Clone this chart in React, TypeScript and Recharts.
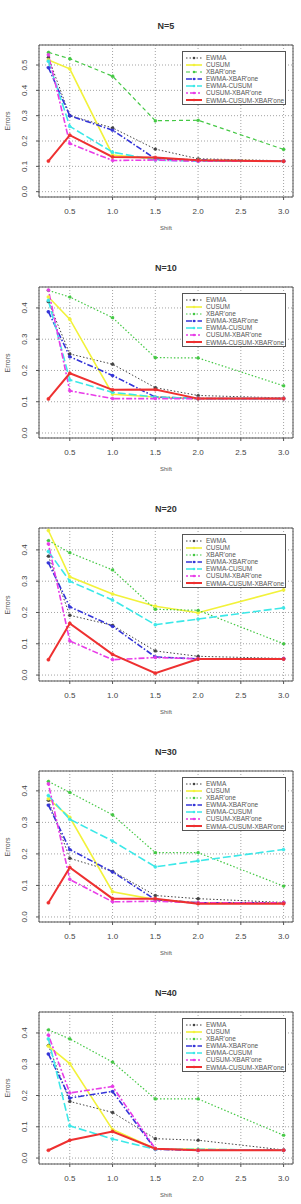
import React from 'react'
import { LineChart, Line, XAxis, YAxis, CartesianGrid, ReferenceArea } from 'recharts'

const shifts = [0.25, 0.5, 1.0, 1.5, 2.0, 3.0]
const xTicks = [0.5, 1.0, 1.5, 2.0, 2.5, 3.0]
const methods = ['EWMA', 'CUSUM', "XBAR'one", "EWMA-XBAR'one", 'EWMA-CUSUM', "CUSUM-XBAR'one", "EWMA-CUSUM-XBAR'one"]

// rows follow the order of `methods`, columns follow `shifts`
const errorsN5 = [
  [0.53, 0.3, 0.252, 0.168, 0.13, 0.122],
  [0.52, 0.485, 0.145, 0.13, 0.125, 0.12],
  [0.55, 0.525, 0.456, 0.28, 0.282, 0.167],
  [0.49, 0.3, 0.243, 0.13, 0.125, 0.12],
  [0.515, 0.258, 0.156, 0.125, 0.12, 0.12],
  [0.54, 0.19, 0.123, 0.125, 0.12, 0.12],
  [0.121, 0.223, 0.137, 0.135, 0.124, 0.12],
]
const errorsN10 = [
  [0.42, 0.253, 0.22, 0.145, 0.12, 0.112],
  [0.435, 0.364, 0.124, 0.115, 0.11, 0.11],
  [0.456, 0.435, 0.369, 0.241, 0.24, 0.151],
  [0.388, 0.244, 0.184, 0.115, 0.11, 0.11],
  [0.424, 0.17, 0.13, 0.115, 0.11, 0.11],
  [0.457, 0.135, 0.11, 0.11, 0.11, 0.11],
  [0.109, 0.191, 0.138, 0.139, 0.11, 0.11],
]
const errorsN20 = [
  [0.38, 0.191, 0.159, 0.077, 0.06, 0.053],
  [0.462, 0.314, 0.259, 0.22, 0.199, 0.272],
  [0.43, 0.391, 0.336, 0.21, 0.207, 0.1],
  [0.359, 0.218, 0.156, 0.058, 0.052, 0.052],
  [0.395, 0.3, 0.24, 0.161, 0.179, 0.215],
  [0.419, 0.109, 0.049, 0.056, 0.052, 0.052],
  [0.049, 0.165, 0.066, 0.006, 0.051, 0.051],
]
const errorsN30 = [
  [0.37, 0.186, 0.145, 0.068, 0.058, 0.046],
  [0.375, 0.316, 0.08, 0.055, 0.045, 0.045],
  [0.43, 0.395, 0.324, 0.204, 0.204, 0.098],
  [0.355, 0.214, 0.143, 0.055, 0.045, 0.045],
  [0.385, 0.31, 0.241, 0.159, 0.178, 0.214],
  [0.422, 0.119, 0.048, 0.05, 0.045, 0.045],
  [0.045, 0.157, 0.058, 0.058, 0.042, 0.042],
]
const errorsN40 = [
  [0.36, 0.181, 0.146, 0.062, 0.057, 0.026],
  [0.358, 0.302, 0.091, 0.03, 0.028, 0.025],
  [0.41, 0.381, 0.307, 0.189, 0.189, 0.073],
  [0.333, 0.192, 0.213, 0.028, 0.025, 0.025],
  [0.381, 0.103, 0.061, 0.028, 0.028, 0.025],
  [0.393, 0.208, 0.229, 0.03, 0.025, 0.025],
  [0.025, 0.057, 0.085, 0.03, 0.025, 0.025],
]

const ticksTo05 = [0, 0.1, 0.2, 0.3, 0.4, 0.5]
const ticksTo04 = [0, 0.1, 0.2, 0.3, 0.4]

const colors = ['#444444', '#f2f23a', '#44c844', '#3434d8', '#3ce8e8', '#e83ce8', '#ee3030']
const widths = [1, 1.6, 1.2, 1.6, 1.6, 1.6, 2]
const dashes = ['1.5 2', undefined, '1.5 2', '6 2 1.5 2', '8 3', '2 2 6 2', undefined]

const font = '"Liberation Sans", Arial, sans-serif'
const ink = '#444'
const xDomain = [0.14, 3.11]

const panels = [
  { title: 'N=5', errors: errorsN5, ticks: ticksTo05, yDomain: [-0.021, 0.579], top: 45, bottom: 197, greenDash: '4 3' },
  { title: 'N=10', errors: errorsN10, ticks: ticksTo04, yDomain: [-0.016, 0.467], top: 287, bottom: 438 },
  { title: 'N=20', errors: errorsN20, ticks: ticksTo04, yDomain: [-0.019, 0.47], top: 528, bottom: 681 },
  { title: 'N=30', errors: errorsN30, ticks: ticksTo04, yDomain: [-0.016, 0.463], top: 771, bottom: 922 },
  { title: 'N=40', errors: errorsN40, ticks: ticksTo04, yDomain: [-0.019, 0.467], top: 1012, bottom: 1164 },
]

const XTick = (props: any) => {
  const { x, y, payload } = props
  return (
    <text x={x} y={y + 12} textAnchor="middle" fontSize={8} fill={ink} fontFamily={font}>
      {payload.value.toFixed(1)}
    </text>
  )
}

const YTick = (props: any) => {
  const { x, y, payload } = props
  const bx = x - 7
  return (
    <text x={bx} y={y} transform={`rotate(-90 ${bx} ${y})`} textAnchor="middle" fontSize={8} fill={ink} fontFamily={font}>
      {payload.value.toFixed(1)}
    </text>
  )
}

function LegendBox({ top, greenDash }: { top: number; greenDash?: string }) {
  return (
    <div
      style={{
        position: 'absolute', left: 182, top, width: 104, height: 54,
        border: '1px solid #555', background: '#fff', boxSizing: 'border-box',
        padding: '2px 0 0 2px', fontFamily: font, fontSize: 6.5, color: '#555', lineHeight: '7.1px',
      }}
    >
      {methods.map((m, i) => (
        <div key={m} style={{ display: 'flex', alignItems: 'center', height: 7.1, whiteSpace: 'nowrap' }}>
          <svg width={18} height={6} style={{ flex: 'none' }}>
            <line x1={1} x2={17} y1={3} y2={3} stroke={colors[i]} strokeWidth={widths[i]}
              strokeDasharray={i === 2 && greenDash ? greenDash : dashes[i]} />
            <circle cx={9} cy={3} r={1.3} fill={colors[i]} />
          </svg>
          <span style={{ marginLeft: 3 }}>{m}</span>
        </div>
      ))}
    </div>
  )
}

function Panel({ p }: { p: (typeof panels)[number] }) {
  const data = shifts.map((s, j) => {
    const row: Record<string, number> = { shift: s }
    p.errors.forEach((vals, i) => { row['m' + i] = vals[j] })
    return row
  })
  const plotH = p.bottom - p.top
  const chartTop = p.top - 8
  return (
    <>
      <div style={{ position: 'absolute', left: 39, width: 254, top: p.top - 24, textAlign: 'center', fontFamily: font, fontWeight: 'bold', fontSize: 9, color: '#333' }}>
        {p.title}
      </div>
      <div style={{ position: 'absolute', left: 0, top: chartTop }}>
        <LineChart width={301} height={plotH + 38} data={data} margin={{ top: 8, right: 8, left: 14, bottom: 0 }}>
          <CartesianGrid stroke="#999" strokeDasharray="1 2" strokeWidth={0.9} />
          <XAxis dataKey="shift" type="number" domain={xDomain} ticks={xTicks} allowDataOverflow height={30}
            axisLine={false} tickLine={{ stroke: '#555' }} tickSize={3} tick={<XTick />} interval={0} />
          <YAxis type="number" domain={p.yDomain} ticks={p.ticks} allowDataOverflow width={25}
            axisLine={false} tickLine={{ stroke: '#555' }} tickSize={3} tick={<YTick />} interval={0} />
          <ReferenceArea x1={xDomain[0]} x2={xDomain[1]} y1={p.yDomain[0]} y2={p.yDomain[1]}
            fill="none" stroke="#555" strokeWidth={1} ifOverflow="visible" />
          {methods.map((m, i) => (
            <Line key={m} dataKey={'m' + i} name={m} type="linear" stroke={colors[i]} strokeWidth={widths[i]}
              strokeDasharray={i === 2 && p.greenDash ? p.greenDash : dashes[i]}
              dot={{ r: 1.6, fill: colors[i], stroke: colors[i], strokeWidth: 0.5 }}
              isAnimationActive={false} />
          ))}
        </LineChart>
      </div>
      <LegendBox top={p.top + 6} greenDash={p.greenDash} />
      <div style={{ position: 'absolute', left: 39, width: 254, top: p.bottom + 28, textAlign: 'center', fontFamily: font, fontSize: 6, color: '#555' }}>
        Shift
      </div>
      <div style={{ position: 'absolute', left: 7, top: (p.top + p.bottom) / 2, transform: 'translate(-50%, -50%) rotate(-90deg)', fontFamily: font, fontSize: 7, color: '#555' }}>
        Errors
      </div>
    </>
  )
}

export default function App() {
  return (
    <div style={{ position: 'absolute', left: 0, top: 0, width: 301, height: 1204, background: '#fff', overflow: 'hidden' }}>
      {panels.map(p => <Panel key={p.title} p={p} />)}
    </div>
  )
}
